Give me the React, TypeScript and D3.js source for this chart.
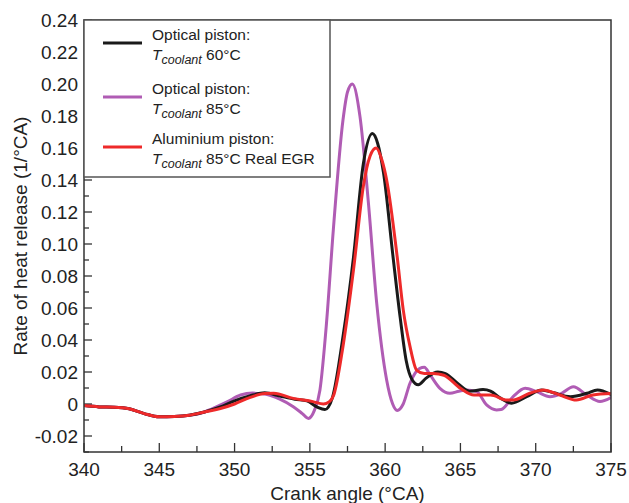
import React from "react";
import * as d3 from "d3";

// ---- data ----
const common_x = [340, 341, 342, 343, 344, 345, 346, 347, 348];
const common_y = [-0.001, -0.0018, -0.002, -0.003, -0.006, -0.008, -0.0078, -0.007, -0.005];

const black_x = [349, 350, 351, 352, 353, 354, 354.8, 355.5, 356.0, 356.5, 357.2, 357.9, 358.55, 359.15, 359.5, 359.9, 360.5, 361.0, 361.4, 361.8, 362.2, 362.7, 363.5, 364.0, 364.8, 365.6, 366.5, 367.0, 367.6, 368.4, 369.4, 370.4, 371.2, 372.3, 373.4, 374.1, 375];
const black_y = [-0.002, 0.002, 0.005, 0.007, 0.005, 0.003, 0.002, -0.002, -0.0035, 0.004, 0.042, 0.092, 0.150, 0.169, 0.163, 0.144, 0.094, 0.054, 0.027, 0.015, 0.012, 0.016, 0.020, 0.019, 0.013, 0.008, 0.009, 0.008, 0.004, 0.0005, 0.0046, 0.0088, 0.007, 0.0046, 0.0067, 0.0088, 0.006];

const red_x = [349, 350, 351, 352, 352.6, 353.9, 355.2, 355.9, 356.3, 356.6, 357.2, 357.9, 358.55, 359.0, 359.4, 359.8, 360.1, 360.8, 361.2, 361.65, 362.1, 362.6, 363.2, 363.9, 365.0, 365.9, 367.0, 368.1, 368.5, 369.6, 370.5, 371.6, 372.7, 373.8, 375];
const red_y = [-0.003, 0.0, 0.004, 0.0065, 0.0067, 0.0035, 0.0015, 0.0, 0.0015, 0.006, 0.036, 0.084, 0.136, 0.155, 0.160, 0.152, 0.14, 0.092, 0.059, 0.036, 0.021, 0.019, 0.019, 0.018, 0.0098, 0.0056, 0.0056, 0.0025, 0.0025, 0.0067, 0.0088, 0.0056, 0.0025, 0.0056, 0.0065];

const purple_x = [348.5, 349.5, 350.4, 351.2, 352.1, 353.0, 353.9, 354.5, 354.9, 355.3, 355.67, 356.1, 356.56, 357.2, 357.5, 357.82, 358.33, 358.89, 359.44, 360.1, 360.5, 360.8, 361.2, 361.65, 362.3, 362.6, 363.0, 363.64, 364.3, 364.9, 365.4, 366.08, 366.74, 367.4, 367.7, 368.5, 369.3, 370.06, 370.95, 371.72, 372.5, 373.38, 374.27, 375];
const purple_y = [-0.003, 0.0013, 0.0056, 0.0068, 0.006, 0.003, -0.0017, -0.006, -0.009, -0.004, 0.0088, 0.05, 0.109, 0.1775, 0.195, 0.200, 0.1796, 0.1255, 0.063, 0.015, 0.0, -0.004, 0.0, 0.013, 0.0223, 0.023, 0.018, 0.0098, 0.0067, 0.008, 0.0088, 0.0077, -0.0006, -0.0037, -0.0035, 0.0046, 0.0098, 0.0077, 0.0046, 0.0067, 0.0108, 0.0056, 0.0015, 0.004];

const xTicks = [340, 345, 350, 355, 360, 365, 370, 375];
const yTicks = [-0.02, 0, 0.02, 0.04, 0.06, 0.08, 0.1, 0.12, 0.14, 0.16, 0.18, 0.2, 0.22, 0.24];

const legendItems = [
  { head: "Optical piston:", tail: " 60°C", color: "#1a1a1a" },
  { head: "Optical piston:", tail: " 85°C", color: "#b05cb4" },
  { head: "Aluminium piston:", tail: " 85°C Real EGR", color: "#ee2a2a" },
];

// ---- layout ----
const W = 629, H = 503;
const L = 84, R = 611, T = 20, B = 452;
const FONT = "'Liberation Sans', Arial, Helvetica, sans-serif";

const fmtY = (v: number) => (v === 0 ? "0" : d3.format(".2f")(v).replace("\u2212", "-"));

export default function App() {
  const x = d3.scaleLinear().domain([340, 375]).range([L, R]);
  const y = d3.scaleLinear().domain([-0.03, 0.24]).range([B, T]);
  const line = d3
    .line<[number, number]>()
    .x((d) => x(d[0]))
    .y((d) => y(d[1]))
    .curve(d3.curveMonotoneX);

  const mk = (xs: number[], ys: number[]) => {
    const pts: [number, number][] = [];
    common_x.forEach((v, i) => pts.push([v, common_y[i]]));
    xs.forEach((v, i) => pts.push([v, ys[i]]));
    return pts;
  };

  const series = [
    { pts: mk(purple_x, purple_y), color: legendItems[1].color },
    { pts: mk(black_x, black_y), color: legendItems[0].color },
    { pts: mk(red_x, red_y), color: legendItems[2].color },
  ];

  const xMinor = d3.range(340, 375.01, 2.5);
  const yMinor = d3.range(-0.03, 0.2401, 0.01);

  const legendY = [43, 97, 147];

  return (
    <svg
      width={W}
      height={H}
      style={{ position: "absolute", left: 0, top: 0, background: "#fff" }}
      fontFamily={FONT}
    >
      <defs>
        <clipPath id="plot">
          <rect x={L} y={T} width={R - L} height={B - T} />
        </clipPath>
      </defs>
      <rect x={0} y={0} width={W} height={H} fill="#fff" />
      {/* minor ticks */}
      {xMinor.map((v) => (
        <line key={"xm" + v} x1={x(v)} x2={x(v)} y1={B} y2={B - (Math.abs(v % 5) < 1e-6 ? 9 : 6)} stroke="#333" strokeWidth={1.3} />
      ))}
      {yMinor.map((v, i) => (
        <line key={"ym" + i} x1={L} x2={L + (i % 2 === 1 ? 8 : 5)} y1={y(v)} y2={y(v)} stroke="#333" strokeWidth={1.3} />
      ))}
      {/* curves */}
      <g clipPath="url(#plot)">
        {series.map((s, i) => (
          <path key={i} d={line(s.pts) || ""} fill="none" stroke={s.color} strokeWidth={3} strokeLinejoin="round" strokeLinecap="round" />
        ))}
      </g>
      {/* frame */}
      <rect x={L} y={T} width={R - L} height={B - T} fill="none" stroke="#333" strokeWidth={1.5} />
      {/* tick labels */}
      {xTicks.map((v) => (
        <text key={"xt" + v} x={x(v)} y={476} textAnchor="middle" fontSize={19} fill="#222">
          {v}
        </text>
      ))}
      {yTicks.map((v) => (
        <text key={"yt" + v} x={L - 6} y={y(v)} dy="0.36em" textAnchor="end" fontSize={19} fill="#222">
          {fmtY(v)}
        </text>
      ))}
      {/* axis titles */}
      <text x={(L + R) / 2} y={500} textAnchor="middle" fontSize={19} fill="#222">
        Crank angle (°CA)
      </text>
      <text
        transform={`translate(27,${(T + B) / 2}) rotate(-90)`}
        textAnchor="middle"
        fontSize={19}
        fill="#222"
      >
        Rate of heat release (1/°CA)
      </text>
      {/* legend */}
      <rect x={L} y={T} width={330 - L} height={177 - T} fill="#fff" stroke="#555" strokeWidth={1.5} />
      {legendItems.map((it, i) => (
        <g key={"lg" + i}>
          <line x1={103} x2={142} y1={legendY[i]} y2={legendY[i]} stroke={it.color} strokeWidth={3} />
          <text x={152} y={legendY[i] - 3} fontSize={15.5} fill="#222">
            {it.head}
          </text>
          <text x={152} y={legendY[i] + 17} fontSize={15.5} fill="#222">
            <tspan fontStyle="italic">T</tspan>
            <tspan fontStyle="italic" fontSize={12.5} dy={4}>coolant</tspan>
            <tspan dy={-4}>{it.tail}</tspan>
          </text>
        </g>
      ))}
    </svg>
  );
}
